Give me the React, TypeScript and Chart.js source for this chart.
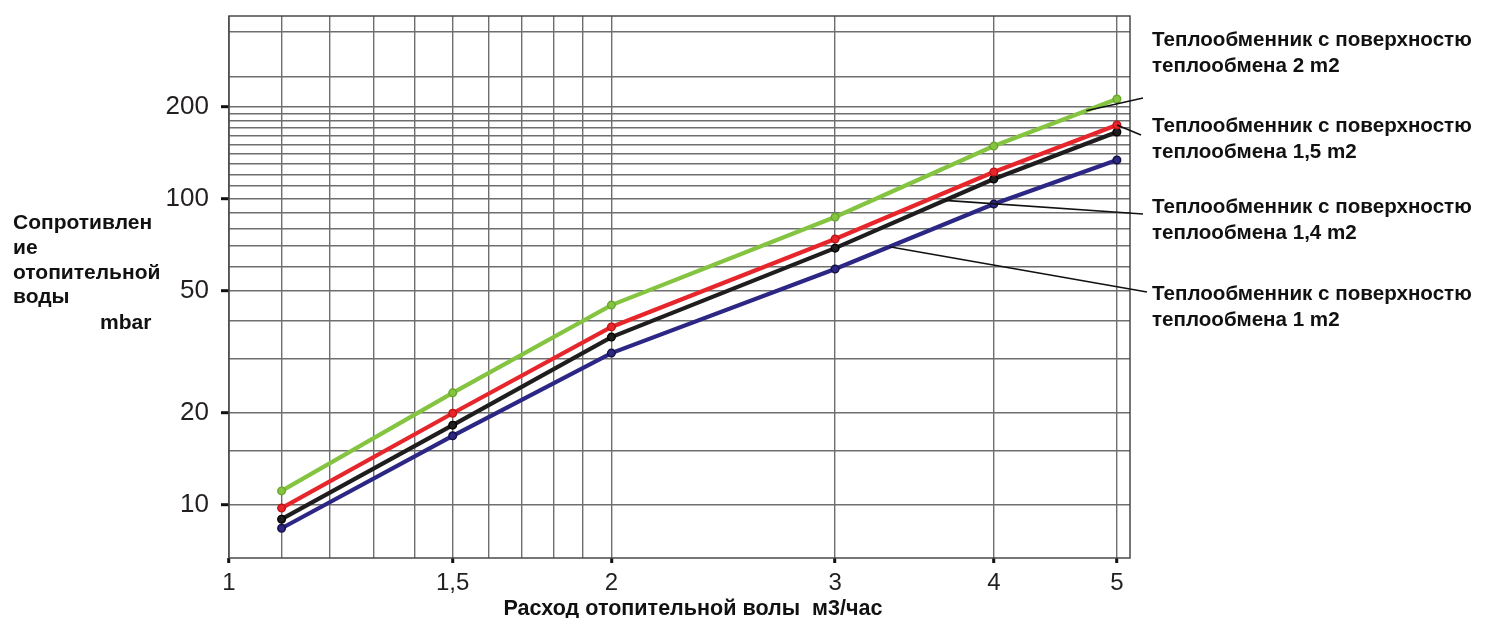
import React, { useEffect, useRef } from 'react';
import { Chart, registerables } from 'chart.js';

Chart.register(...registerables);

// ---- data ----
const flow = [1.1, 1.5, 2, 3, 4, 5]; // м3/час
const drop2m2 = [11.1, 23.2, 44.9, 87.1, 148.5, 211.6]; // mbar
const drop15m2 = [9.75, 19.9, 38.1, 73.8, 122.2, 174.0];
const drop14m2 = [8.97, 18.2, 35.3, 68.9, 115.9, 165.1];
const drop1m2 = [8.38, 16.8, 31.3, 58.9, 96.0, 133.7];

const seriesNames = ['теплообмена 2 m2', 'теплообмена 1,5 m2', 'теплообмена 1,4 m2', 'теплообмена 1 m2'];
const seriesHead = 'Теплообменник с поверхностю';
const seriesColors = ['#84c441', '#e6262b', '#1f1d1d', '#2c2784'];
const pointBorders = ['#6aa52c', '#c01418', '#000000', '#141044'];
const leaderAtFlow = [4.73, 5, 3.66, 3.31];

const xLabelTicks = [1, 1.5, 2, 3, 4, 5];
const xTickText = ['1', '1,5', '2', '3', '4', '5'];
const xGridTicks = [1, 1.1, 1.2, 1.3, 1.4, 1.5, 1.6, 1.7, 1.8, 1.9, 2, 3, 4, 5];
const yLabelTicks = [10, 20, 50, 100, 200];
const yGridTicks = [10, 15, 20, 30, 40, 50, 60, 70, 80, 90, 100, 110, 120, 130, 140, 150, 160, 170, 180, 190, 200, 250, 350];

const xTitle = 'Расход отопительной волы  м3/час';
const yTitleLines = ['Сопротивлен', 'ие', 'отопительной', 'воды'];
const yUnit = 'mbar';

const FONT = "'Liberation Sans', Arial, Helvetica, sans-serif";

function interpLog(xs: number[], ys: number[], x: number): number {
  for (let j = 0; j < xs.length - 1; j++) {
    if (x >= xs[j] && x <= xs[j + 1]) {
      const t = (Math.log10(x) - Math.log10(xs[j])) / (Math.log10(xs[j + 1]) - Math.log10(xs[j]));
      return Math.pow(10, Math.log10(ys[j]) + t * (Math.log10(ys[j + 1]) - Math.log10(ys[j])));
    }
  }
  return ys[ys.length - 1];
}

const allSeries = [drop2m2, drop15m2, drop14m2, drop1m2];

const decorPlugin = {
  id: 'decor',
  beforeDatasetsDraw(chart: any) {
    const { ctx, chartArea: a } = chart;
    ctx.save();
    ctx.strokeStyle = '#4a4a4a';
    ctx.lineWidth = 1.5;
    ctx.strokeRect(a.left, a.top, a.right - a.left, a.bottom - a.top);
    ctx.restore();
  },
  afterDraw(chart: any) {
    const { ctx, chartArea: a } = chart;
    const xs = chart.scales.x;
    const ys = chart.scales.y;
    ctx.save();
    // leader lines
    const labelX = a.right + 22;
    const labelBase = [46, 132, 213, 300];
    const leaderEnd = [
      [a.right + 13, 98],
      [a.right + 11, 135],
      [a.right + 13, 214],
      [a.right + 17, 292],
    ];
    ctx.strokeStyle = '#111';
    ctx.lineWidth = 1.6;
    allSeries.forEach((vals, i) => {
      const fx = leaderAtFlow[i];
      const px = xs.getPixelForValue(fx);
      const py = ys.getPixelForValue(interpLog(flow, vals, fx));
      ctx.beginPath();
      ctx.moveTo(px, py);
      ctx.lineTo(leaderEnd[i][0], leaderEnd[i][1]);
      ctx.stroke();
    });
    // series labels
    ctx.fillStyle = '#111';
    ctx.font = `bold 20.6px ${FONT}`;
    ctx.textAlign = 'left';
    ctx.textBaseline = 'alphabetic';
    seriesNames.forEach((name, i) => {
      ctx.fillText(seriesHead, labelX, labelBase[i], 322);
      ctx.fillText(name, labelX, labelBase[i] + 26);
    });
    // y title
    ctx.font = `bold 21px ${FONT}`;
    const yBase = [229, 254, 279, 303];
    yTitleLines.forEach((t, i) => ctx.fillText(t, 13, yBase[i]));
    ctx.fillText(yUnit, 100, 329);
    // x title
    ctx.font = `bold 22px ${FONT}`;
    ctx.textAlign = 'center';
    ctx.fillText(xTitle, 693, 615, 379);
    ctx.restore();
  },
};

export default function App() {
  const ref = useRef<HTMLCanvasElement>(null);
  useEffect(() => {
    const canvas = ref.current!;
    const chart = new Chart(canvas, {
      type: 'line',
      data: {
        datasets: allSeries.map((vals, i) => ({
          label: seriesNames[i],
          data: flow.map((x, j) => ({ x, y: vals[j] })),
          borderColor: seriesColors[i],
          backgroundColor: seriesColors[i],
          pointBackgroundColor: seriesColors[i],
          pointBorderColor: pointBorders[i],
          pointBorderWidth: 1.4,
          pointRadius: 3.8,
          borderWidth: 4.2,
          tension: 0,
          fill: false,
        })),
      },
      options: {
        responsive: false,
        animation: false,
        devicePixelRatio: 1,
        events: [],
        layout: { padding: { left: 0, right: 358, top: 16, bottom: 0 } },
        plugins: { legend: { display: false }, tooltip: { enabled: false } },
        scales: {
          x: {
            type: 'logarithmic',
            min: 1,
            max: 5.12,
            afterBuildTicks: (s: any) => {
              s.ticks = xGridTicks.map((v) => ({ value: v }));
            },
            afterFit: (s: any) => {
              s.height = 60;
              s.paddingLeft = 0;
              s.paddingRight = 0;
            },
            border: { display: false },
            grid: {
              color: '#6e6e6e',
              lineWidth: 1.4,
              drawTicks: true,
              tickLength: 5,
              tickWidth: 3,
              tickColor: (c: any) => (xLabelTicks.includes(c.tick?.value) ? '#111' : 'rgba(0,0,0,0)'),
            },
            ticks: {
              autoSkip: false,
              maxRotation: 0,
              padding: 6,
              color: '#231f20',
              font: { family: FONT, size: 24 },
              callback: (v: any) => {
                const i = xLabelTicks.indexOf(Number(v));
                return i >= 0 ? xTickText[i] : '';
              },
            },
          },
          y: {
            type: 'logarithmic',
            min: 6.7,
            max: 395,
            afterBuildTicks: (s: any) => {
              s.ticks = yGridTicks.map((v) => ({ value: v }));
            },
            afterFit: (s: any) => {
              s.width = 229;
              s.paddingTop = 0;
              s.paddingBottom = 0;
            },
            border: { display: false },
            grid: {
              color: '#6e6e6e',
              lineWidth: 1.4,
              drawTicks: true,
              tickLength: 8,
              tickWidth: 3,
              tickColor: (c: any) => (yLabelTicks.includes(c.tick?.value) ? '#111' : 'rgba(0,0,0,0)'),
            },
            ticks: {
              autoSkip: false,
              padding: 12,
              color: '#231f20',
              font: { family: FONT, size: 26 },
              callback: (v: any) => (yLabelTicks.includes(Number(v)) ? String(v) : ''),
            },
          },
        },
      },
      plugins: [decorPlugin],
    });
    return () => chart.destroy();
  }, []);
  return (
    <div style={{ position: 'absolute', left: 0, top: 0, width: 1488, height: 618, background: '#fff' }}>
      <canvas ref={ref} width={1488} height={618} style={{ display: 'block', width: 1488, height: 618 }} />
    </div>
  );
}
